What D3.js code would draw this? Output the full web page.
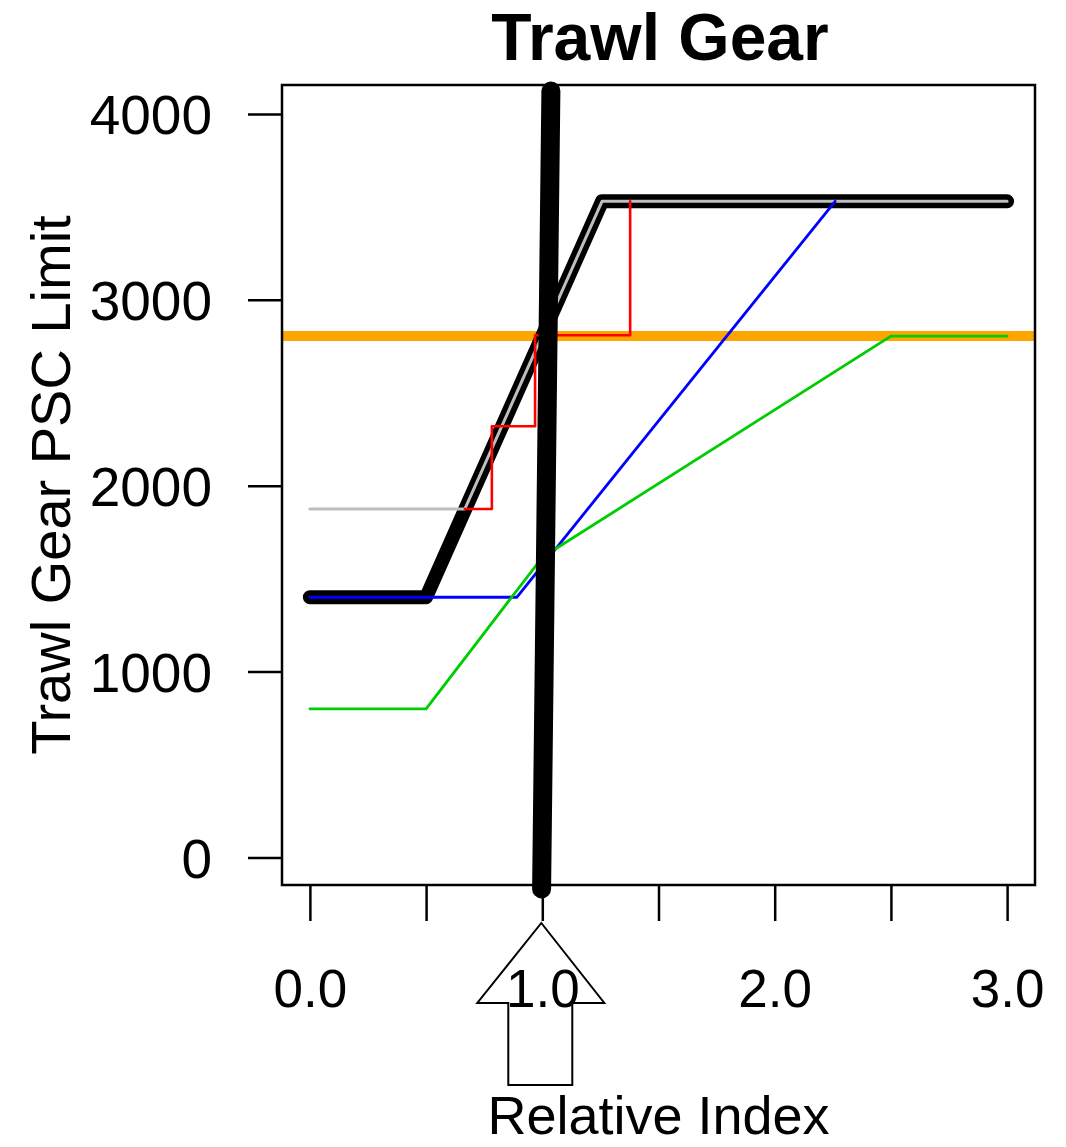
<!DOCTYPE html>
<html>
<head>
<meta charset="utf-8">
<script src="https://cdn.jsdelivr.net/npm/d3@7"></script>
<style>
  html, body { margin: 0; padding: 0; background: #ffffff; }
  text { font-family: "Liberation Sans", Arial, sans-serif; fill: #000; }
</style>
</head>
<body>
<svg id="chart" width="1066" height="1147"></svg>
<script>
// ---- data ----
const titleText = "Trawl Gear";
const xLabelText = "Relative Index";
const yLabelText = "Trawl Gear PSC Limit";

const xTicks = [0, 0.5, 1, 1.5, 2, 2.5, 3];
const xTickLabels = ["0.0", "", "1.0", "", "2.0", "", "3.0"];
const yTicks = [0, 1000, 2000, 3000, 4000];

const blackX = [0, 0.5, 1.257, 3];
const blackY = [1400, 1400, 3530, 3530];

const grayX = [0, 0.667, 1.257, 3];
const grayY = [1875, 1875, 3530, 3530];

const redX = [0.667, 0.783, 0.783, 0.969, 0.969, 1.378, 1.378];
const redY = [1875, 1875, 2320, 2320, 2810, 2810, 3530];

const blueX = [0, 0.89, 2.26];
const blueY = [1400, 1400, 3530];

const greenX = [0, 0.5, 1.0, 2.5, 3];
const greenY = [800, 800, 1615, 2805, 2805];

const orangeLevel = 2805;

const currentX = [0.997, 1.037];
const currentY = [-169, 4124];

const arrowAt = 1.0;

// ---- layout ----
const svg = d3.select("#chart");
const plot = { left: 282, right: 1035, top: 85, bottom: 885 };

const x = d3.scaleLinear().domain([-0.12, 3.12]).range([plot.left, plot.right]);
const y = d3.scaleLinear().domain([-148, 4156]).range([plot.bottom, plot.top]);

const zip = (xs, ys) => xs.map((v, i) => [v, ys[i]]);
const line = d3.line().x(d => x(d[0])).y(d => y(d[1]));

function drawSeries(xs, ys, color, width) {
  svg.append("path")
    .datum(zip(xs, ys))
    .attr("d", line)
    .attr("fill", "none")
    .attr("stroke", color)
    .attr("stroke-width", width)
    .attr("stroke-linecap", "round")
    .attr("stroke-linejoin", "round");
}

// orange reference level (clipped to plot region like abline)
svg.append("line")
  .attr("x1", x.range()[0]).attr("x2", x.range()[1])
  .attr("y1", y(orangeLevel)).attr("y2", y(orangeLevel))
  .attr("stroke", "#FFA500").attr("stroke-width", 10);

drawSeries(blackX, blackY, "#000000", 14);
drawSeries(grayX, grayY, "#BEBEBE", 3);
drawSeries(redX, redY, "#FF0000", 2.6);
drawSeries(blueX, blueY, "#0000FF", 2.8);
drawSeries(greenX, greenY, "#00CD00", 2.8);
drawSeries(currentX, currentY, "#000000", 19);

// box
svg.append("rect")
  .attr("x", plot.left).attr("y", plot.top)
  .attr("width", plot.right - plot.left).attr("height", plot.bottom - plot.top)
  .attr("fill", "none").attr("stroke", "#000").attr("stroke-width", 2.5);

// y axis
const yAxis = svg.append("g")
  .attr("transform", `translate(${plot.left},0)`)
  .call(d3.axisLeft(y).tickValues(yTicks).tickSize(34).tickPadding(36).tickFormat(d3.format("d")));
yAxis.select(".domain").remove();
yAxis.selectAll(".tick line").attr("stroke", "#000").attr("stroke-width", 2.5);
yAxis.selectAll(".tick text")
  .attr("font-size", 55).attr("font-family", "Liberation Sans, Arial, sans-serif")
  .attr("fill", "#000").attr("dy", "0.36em");

// x axis
const xAxis = svg.append("g")
  .attr("transform", `translate(0,${plot.bottom})`)
  .call(d3.axisBottom(x).tickValues(xTicks).tickSize(36).tickFormat((d, i) => xTickLabels[i]));
xAxis.select(".domain").remove();
xAxis.selectAll(".tick line").attr("stroke", "#000").attr("stroke-width", 2.5);
xAxis.selectAll(".tick text")
  .attr("font-size", 53).attr("font-family", "Liberation Sans, Arial, sans-serif")
  .attr("fill", "#000").attr("y", 122).attr("dy", "0");

// arrow under current index
const ax = x(arrowAt) - 1;
const arrowPts = [
  [ax, 923], [ax + 63, 1003], [ax + 31, 1003], [ax + 31, 1085],
  [ax - 33, 1085], [ax - 33, 1003], [ax - 64, 1003]
];
svg.append("polygon")
  .attr("points", arrowPts.map(p => p.join(",")).join(" "))
  .attr("fill", "none").attr("stroke", "#000").attr("stroke-width", 2);

// title
svg.append("text")
  .attr("x", 660).attr("y", 60)
  .attr("text-anchor", "middle")
  .attr("font-size", 66).attr("font-weight", "bold")
  .text(titleText);

// x label
svg.append("text")
  .attr("x", (plot.left + plot.right) / 2).attr("y", 1134)
  .attr("text-anchor", "middle")
  .attr("font-size", 54)
  .text(xLabelText);

// y label
svg.append("text")
  .attr("transform", `translate(70,${(plot.top + plot.bottom) / 2}) rotate(-90)`)
  .attr("text-anchor", "middle")
  .attr("font-size", 56)
  .text(yLabelText);
</script>
</body>
</html>
